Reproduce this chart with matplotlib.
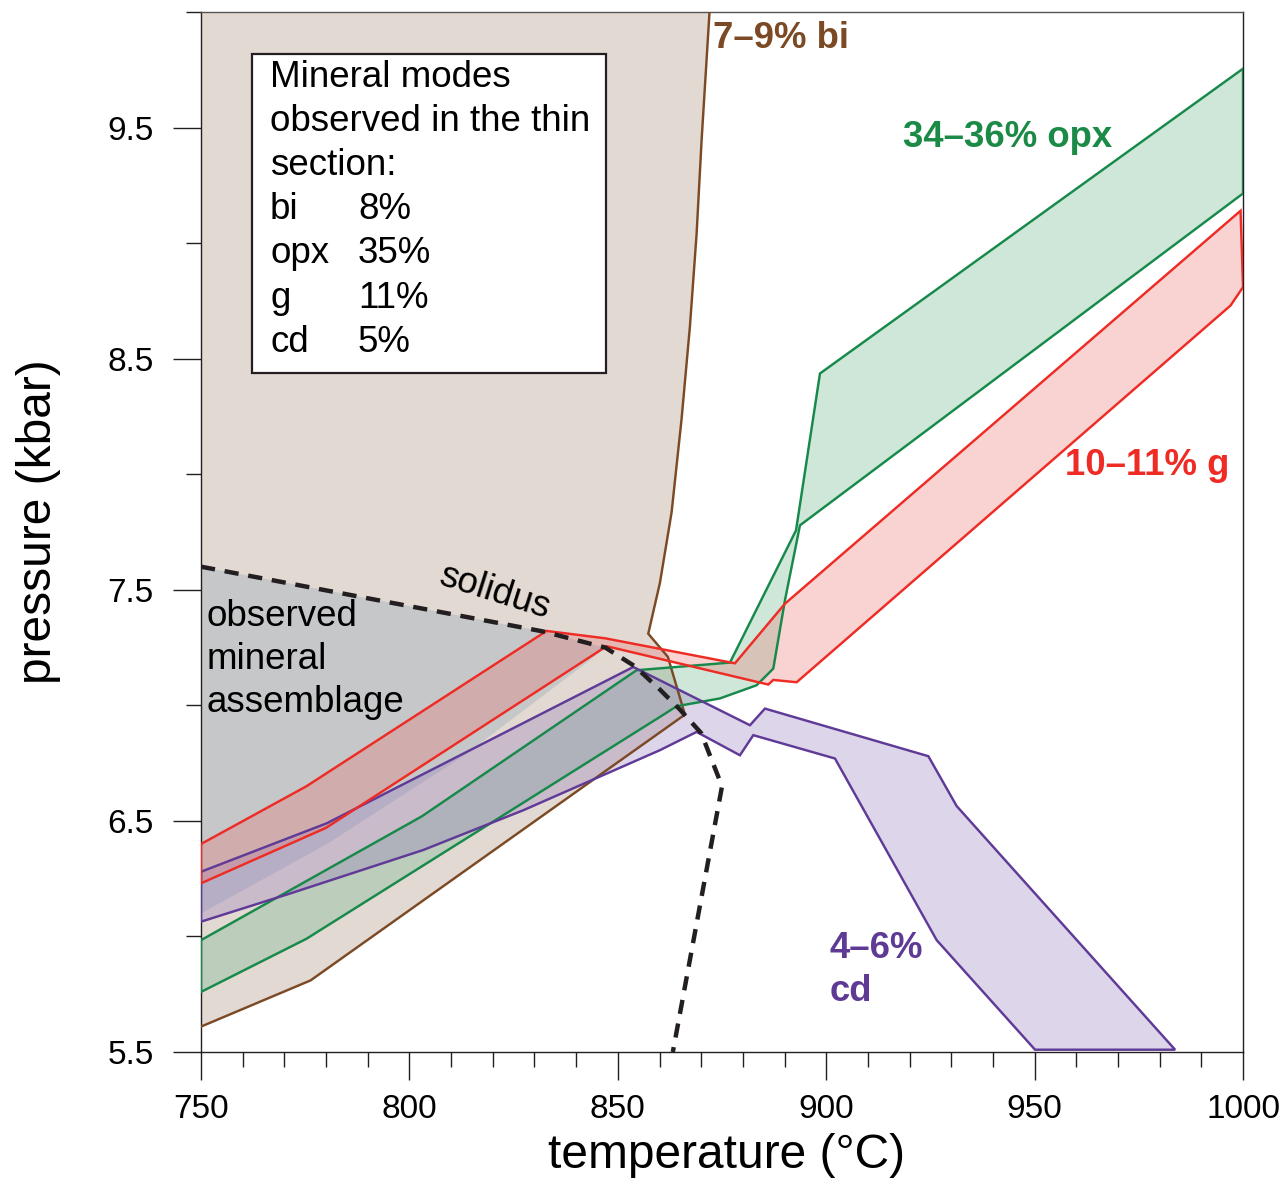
import matplotlib
matplotlib.use("Agg")
import matplotlib.pyplot as plt
from matplotlib.patches import Rectangle
from matplotlib.ticker import MultipleLocator

plt.rcParams['font.family'] = ['Liberation Sans', 'DejaVu Sans']

# ---- P–T data (temperature in °C, pressure in kbar) ----
# biotite 7–9 % field: lower edge, then its high-temperature edge up to the top
bi_T = [750, 776.3, 866.1, 862.0, 857.3, 860.1, 862.9, 865.3, 867.3, 868.9, 870.1, 872.0]
bi_P = [5.61, 5.81, 6.96, 7.21, 7.31, 7.53, 7.835, 8.24, 8.64, 9.04, 9.445, 10.0]

# solidus
sol_T = [750, 832, 847, 854, 860, 865, 870, 875, 863.2]
sol_P = [7.60, 7.32, 7.25, 7.17, 7.07, 6.98, 6.88, 6.65, 5.5]

# lower limit of the observed-assemblage field (runs up to the solidus)
asm_T = [750, 780.2, 812.9, 843.3, 847]
asm_P = [6.10, 6.40, 6.78, 7.195, 7.25]

# opx 34–36 %
opx_hi_T = [750, 803, 854.5, 876.9, 892.75, 898.5, 1000]
opx_hi_P = [5.984, 6.52, 7.152, 7.185, 7.757, 8.436, 9.755]
opx_lo_T = [750, 775.3, 860.1, 864.1, 874.5, 883.3, 887.3, 890.1, 893.7, 1000]
opx_lo_P = [5.76, 5.99, 6.95, 6.996, 7.03, 7.087, 7.159, 7.455, 7.779, 9.215]

# garnet 10–11 %
g_hi_T = [750, 775.3, 832.9, 847, 878.1, 890.1, 999.4]
g_hi_P = [6.40, 6.65, 7.322, 7.29, 7.182, 7.44, 9.14]
g_lo_T = [750, 780, 847.3, 886.1, 887.3, 892.9, 997, 1000]
g_lo_P = [6.23, 6.47, 7.256, 7.09, 7.11, 7.10, 8.73, 8.81]

# cordierite 4–6 %
cd_hi_T = [750, 780.2, 853.7, 881.7, 885.3, 924.5, 931.3, 983.7]
cd_hi_P = [6.28, 6.49, 7.166, 6.914, 6.986, 6.78, 6.564, 5.51]
cd_lo_T = [750, 771.4, 803.3, 827.3, 860.1, 868.9, 879.3, 882.5, 902.1, 926.5, 950.1]
cd_lo_P = [6.064, 6.186, 6.374, 6.546, 6.806, 6.885, 6.784, 6.871, 6.77, 5.984, 5.51]

# modes measured in the thin section (%)
minerals = ['bi', 'opx', 'g', 'cd']
modes = [8, 35, 11, 5]

x_ticks = [750, 800, 850, 900, 950, 1000]
y_ticks = [5.5, 6.5, 7.5, 8.5, 9.5]

INK = '#231f20'
BROWN, BROWN_FILL = '#7b4a24', '#e3d9d3'
GREY_FILL = '#c6c7c9'
GREEN, GREEN_FILL = '#17894a', '#62b284'
RED, RED_FILL = '#ee2b24', '#eb706c'
PURPLE, PURPLE_FILL = '#5f3b97', '#9176b9'
BAND_ALPHA = 0.3
EDGE_LW = 1.75


def ring(hi_T, hi_P, lo_T, lo_P):
    """Closed outline of a band: upper limit, then lower limit reversed."""
    xs = list(hi_T) + list(lo_T[::-1]) + [hi_T[0]]
    ys = list(hi_P) + list(lo_P[::-1]) + [hi_P[0]]
    return xs, ys


fig = plt.figure(figsize=(12.86, 11.79), dpi=100)
ax = fig.add_axes([0.1563, 0.1077, 0.8103, 0.8821])
ax.set_xlim(750, 1000)
ax.set_ylim(5.5, 10.0)

# biotite field (bounded by the frame on the left and top)
ax.fill(bi_T + [750], bi_P + [10.0], facecolor=BROWN_FILL, edgecolor='none', zorder=1)

# observed mineral assemblage field below the solidus
n_sol = sol_T.index(847) + 1
gx = sol_T[:n_sol] + asm_T[::-1]
gy = sol_P[:n_sol] + asm_P[::-1]
ax.fill(gx, gy, facecolor=GREY_FILL, edgecolor='none', zorder=2)

bands = [
    (opx_hi_T, opx_hi_P, opx_lo_T, opx_lo_P, GREEN, GREEN_FILL),
    (cd_hi_T, cd_hi_P, cd_lo_T, cd_lo_P, PURPLE, PURPLE_FILL),
    (g_hi_T, g_hi_P, g_lo_T, g_lo_P, RED, RED_FILL),
]
for hT, hP, lT, lP, edge, face in bands:
    xs, ys = ring(hT, hP, lT, lP)
    ax.fill(xs, ys, facecolor=face, alpha=BAND_ALPHA, edgecolor='none', zorder=3)

ax.plot(bi_T, bi_P, color=BROWN, lw=EDGE_LW, zorder=4, solid_joinstyle='miter')
for hT, hP, lT, lP, edge, face in bands:
    xs, ys = ring(hT, hP, lT, lP)
    ax.plot(xs, ys, color=edge, lw=EDGE_LW, zorder=4, solid_joinstyle='miter')

ax.plot(sol_T, sol_P, color=INK, lw=3.2, dashes=(3.2, 2.2), zorder=5,
        solid_capstyle='butt', dash_capstyle='butt')

# ---- labels on the diagram ----
ax.text(872.8, 9.885, '7–9% bi', color=BROWN, fontsize=26.3, fontweight='bold',
        ha='left', va='center', zorder=6)
ax.text(918.4, 9.457, '34–36% opx', color='#1b8a47', fontsize=26.3, fontweight='bold',
        ha='left', va='center', zorder=6)
ax.text(957.3, 8.038, '10–11% g', color=RED, fontsize=26.3, fontweight='bold',
        ha='left', va='center', zorder=6)
ax.text(900.9, 5.855, '4–6%\ncd', color='#5e3a95', fontsize=26.3, fontweight='bold',
        ha='left', va='center', linespacing=1.3, zorder=6)
ax.text(751.4, 7.20, 'observed\nmineral\nassemblage', color='black', fontsize=26.5,
        ha='left', va='center', linespacing=1.3, zorder=6)
ax.text(820.3, 7.49, 'solidus', color='black', fontsize=26.5, rotation=-17.5,
        ha='center', va='center', rotation_mode='anchor', zorder=6)

# ---- thin-section modes box ----
ax.add_patch(Rectangle((0.049, 0.6529), 0.3397, 0.3067, transform=ax.transAxes,
                       facecolor='white', edgecolor=INK, lw=1.6, zorder=6))


def fy(py):
    return (1052 - py) / 1040.0


def fx(px):
    return (px - 201) / 1042.0


head = ['Mineral modes', 'observed in the thin', 'section:']
for i, line in enumerate(head):
    ax.text(fx(270), fy(77 + i * 44.2), line, transform=ax.transAxes, fontsize=26.5,
            ha='left', va='center', zorder=7)
for j, (m, v) in enumerate(zip(minerals, modes)):
    yy = fy(77 + (j + 3) * 44.2)
    ax.text(fx(270), yy, m, transform=ax.transAxes, fontsize=26.5,
            ha='left', va='center', zorder=7)
    ax.text(fx(358), yy, f'{v}%', transform=ax.transAxes, fontsize=26.5,
            ha='left', va='center', zorder=7)

# ---- axes ----
ax.set_xticks(x_ticks)
ax.set_xticklabels([str(t) for t in x_ticks])
ax.xaxis.set_minor_locator(MultipleLocator(10))
ax.set_yticks(y_ticks)
ax.set_yticklabels([f'{t:.1f}' for t in y_ticks])
ax.set_yticks([6.0, 7.0, 8.0, 9.0, 10.0], minor=True)
ax.tick_params(which='major', direction='out', length=20, width=1.0, color=INK,
               labelsize=24, labelcolor='black')
ax.tick_params(which='minor', direction='out', length=10.5, width=1.0, color=INK)
ax.tick_params(axis='x', which='major', pad=10)
ax.tick_params(axis='y', which='major', pad=14)
for s in ax.spines.values():
    s.set_color(INK)
    s.set_linewidth(1.0)
ax.spines['top'].set_color('#555555')

ax.set_xlabel('temperature (°C)', fontsize=34.5)
ax.xaxis.set_label_coords(0.5045, -0.078)
ax.set_ylabel('pressure (kbar)', fontsize=34.5)
ax.yaxis.set_label_coords(-0.134, 0.51)

fig.savefig('out.png', dpi=100)
